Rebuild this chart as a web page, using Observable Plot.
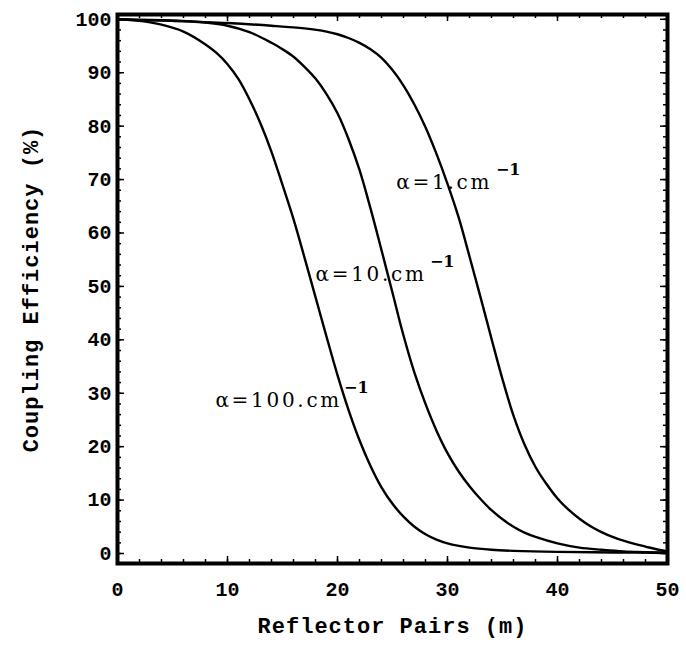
<!DOCTYPE html>
<html>
<head>
<meta charset="utf-8">
<script src="https://cdn.jsdelivr.net/npm/d3@7"></script>
<script src="https://cdn.jsdelivr.net/npm/@observablehq/plot@0.6"></script>
<style>
  body { margin: 0; background: #fff; }
  #chart { width: 686px; height: 645px; }
</style>
</head>
<body>
<div id="chart"></div>
<script>
// Reflector pairs (m) and coupling efficiency (%)
const a1X   = [0, 5, 10, 14, 17, 19, 20, 21, 22, 23, 24, 25, 26, 27, 28, 29, 30, 31, 32, 33, 34, 35, 36, 37, 38, 39, 40, 41, 42, 43, 44, 45, 46, 47, 48, 49, 50];
const a1Y   = [100, 99.7, 99.3, 98.8, 98.3, 97.7, 97.2, 96.5, 95.6, 94.4, 92.8, 90.5, 87.6, 84.0, 79.8, 74.8, 69.2, 63.0, 55.6, 48.0, 40.2, 32.6, 25.8, 20.4, 16.2, 13.0, 10.3, 8.2, 6.5, 5.1, 4.0, 3.1, 2.4, 1.8, 1.3, 0.8, 0.4];
const a10X  = [0, 2, 5, 8, 10, 12, 14, 15, 16, 17, 18, 19, 20, 21, 22, 23, 24, 25, 26, 27, 28, 29, 30, 31, 32, 33, 34, 35, 36, 37, 38, 40, 42, 44, 46, 50];
const a10Y  = [100, 99.9, 99.8, 99.4, 98.8, 97.6, 95.6, 94.4, 93.0, 91.1, 88.9, 86.0, 82.4, 77.6, 71.8, 64.6, 56.8, 48.8, 40.8, 33.8, 28.0, 23.0, 18.8, 15.4, 12.6, 10.2, 8.1, 6.4, 5.0, 3.9, 3.1, 1.9, 1.1, 0.7, 0.4, 0.2];
const a100X = [0, 2, 4, 6, 8, 9, 10, 11, 12, 13, 14, 15, 16, 17, 18, 19, 20, 21, 22, 23, 24, 25, 26, 27, 28, 29, 30, 32, 34, 36, 40, 45, 50];
const a100Y = [100, 99.7, 99.0, 97.7, 95.3, 93.7, 91.6, 88.8, 85.0, 80.5, 75.2, 69.0, 62.6, 55.4, 48.0, 40.6, 33.4, 26.9, 21.2, 16.4, 12.4, 9.3, 6.9, 5.0, 3.6, 2.6, 1.9, 1.1, 0.7, 0.5, 0.3, 0.2, 0.1];

const seriesNames = ["α=1.cm", "α=10.cm", "α=100.cm"];

// Annotation labels (data coordinates) with their superscripts
const labelText = ["α=1.cm", "α=10.cm", "α=100.cm"];
const labelX    = [25.35, 18.0, 8.9];
const labelY    = [69.5, 52.2, 28.6];
const supText   = ["−1", "−1", "−1"];
const supX      = [34.4, 28.4, 20.6];
const supY      = [71.9, 54.5, 31.0];

// Axis ticks
const xMajor = [0, 10, 20, 30, 40, 50];
const xMinor = [0, 2, 4, 6, 8, 10, 12, 14, 16, 18, 20, 22, 24, 26, 28, 30, 32, 34, 36, 38, 40, 42, 44, 46, 48, 50];
const yMajor = [0, 10, 20, 30, 40, 50, 60, 70, 80, 90, 100];
const yMinor = [0, 2, 4, 6, 8, 10, 12, 14, 16, 18, 20, 22, 24, 26, 28, 30, 32, 34, 36, 38, 40, 42, 44, 46, 48, 50, 52, 54, 56, 58, 60, 62, 64, 66, 68, 70, 72, 74, 76, 78, 80, 82, 84, 86, 88, 90, 92, 94, 96, 98, 100];

const xTitle = "Reflector Pairs (m)";
const yTitle = "Coupling Efficiency (%)";

const rows = [];
[[a1X, a1Y], [a10X, a10Y], [a100X, a100Y]].forEach(([xs, ys], i) => {
  xs.forEach((x, j) => rows.push({series: seriesNames[i], x, y: ys[j]}));
});
const labels = labelText.map((t, i) => ({t, x: labelX[i], y: labelY[i]}));
const sups = supText.map((t, i) => ({t, x: supX[i], y: supY[i]}));

const W = 686, H = 645;
const mL = 117, mR = 19, mT = 14, mB = 82;
const innerH = H - mT - mB, innerW = W - mL - mR;
const major = 7, minor = 4;

const tickFont = "'Liberation Mono', 'DejaVu Sans Mono', monospace";
const annFont = "'DejaVu Serif', 'Liberation Serif', serif";

const chart = Plot.plot({
  width: W, height: H,
  marginLeft: mL, marginRight: mR, marginTop: mT, marginBottom: mB,
  x: {domain: [0, 50]},
  y: {domain: [-1.87, 100.9]},
  style: {background: "#fff", color: "#000"},
  marks: [
    // inward ticks, bottom & top
    Plot.ruleX(xMinor, {x: d => d, insetTop: innerH - minor, stroke: "#000", strokeWidth: 1.5}),
    Plot.ruleX(xMinor, {x: d => d, insetBottom: innerH - minor, stroke: "#000", strokeWidth: 1.5}),
    Plot.ruleX(xMajor, {x: d => d, insetTop: innerH - major, stroke: "#000", strokeWidth: 1.5}),
    Plot.ruleX(xMajor, {x: d => d, insetBottom: innerH - major, stroke: "#000", strokeWidth: 1.5}),
    // inward ticks, left & right
    Plot.ruleY(yMinor, {y: d => d, insetRight: innerW - minor, stroke: "#000", strokeWidth: 1.5}),
    Plot.ruleY(yMinor, {y: d => d, insetLeft: innerW - minor, stroke: "#000", strokeWidth: 1.5}),
    Plot.ruleY(yMajor, {y: d => d, insetRight: innerW - major, stroke: "#000", strokeWidth: 1.5}),
    Plot.ruleY(yMajor, {y: d => d, insetLeft: innerW - major, stroke: "#000", strokeWidth: 1.5}),
    Plot.lineY(rows, {x: "x", y: "y", z: "series", stroke: "#000", strokeWidth: 2.4, curve: "catmull-rom"}),
    Plot.frame({stroke: "#000", strokeWidth: 4}),
    Plot.axisX({ticks: xMajor, tickSize: 0, tickPadding: 18, label: null,
      fontSize: 20, fontWeight: "bold", fontFamily: tickFont, tickFormat: d => String(d)}),
    Plot.axisY({ticks: yMajor, tickSize: 0, tickPadding: 6, label: null,
      fontSize: 20, fontWeight: "bold", fontFamily: tickFont, tickFormat: d => String(d)}),
    Plot.text([xTitle], {frameAnchor: "bottom", dy: 69, text: d => d,
      fontSize: 22, fontWeight: "bold", fontFamily: tickFont, fill: "#000"}),
    Plot.text([yTitle], {frameAnchor: "left", textAnchor: "middle", dx: -87, rotate: -90, text: d => d,
      fontSize: 22, fontWeight: "bold", fontFamily: tickFont, fill: "#000"}),
    Plot.text(labels, {x: "x", y: "y", text: "t", textAnchor: "start",
      fontSize: 20, fontFamily: annFont, fill: "#000"}),
    Plot.text(sups, {x: "x", y: "y", text: "t", textAnchor: "start",
      fontSize: 16, fontWeight: "bold", fontFamily: annFont, fill: "#000"})
  ]
});

// letter spacing for titles and annotations
d3.select(chart).selectAll("text").each(function() {
  const t = this.textContent;
  if (t === xTitle || t === yTitle) this.setAttribute("letter-spacing", "1");
  else if (labelText.includes(t)) this.setAttribute("letter-spacing", "2.7");
});

document.getElementById("chart").appendChild(chart);
</script>
</body>
</html>
